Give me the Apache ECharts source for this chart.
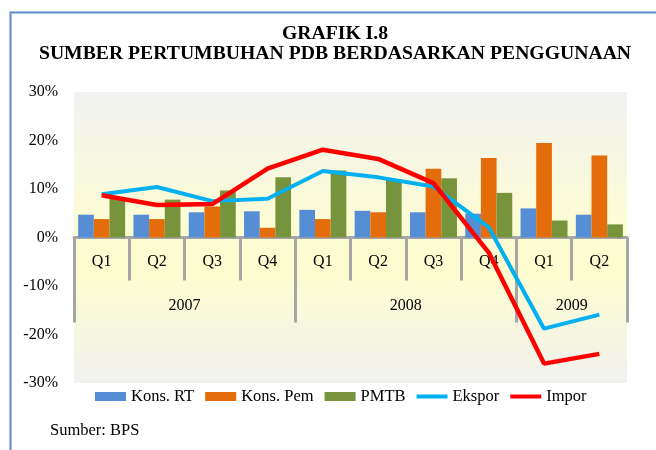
<!DOCTYPE html>
<html>
<head>
<meta charset="utf-8">
<script src="https://cdn.jsdelivr.net/npm/echarts@6/dist/echarts.min.js"></script>
<style>
html,body{margin:0;padding:0;background:#fff;}
#chart{width:656px;height:450px;}
</style>
</head>
<body>
<div id="chart"></div>
<script>
var quarters = ['Q1','Q2','Q3','Q4','Q1','Q2','Q3','Q4','Q1','Q2'];
var years = ['2007','2008','2009'];
var yearSpans = [4, 4, 2];
var konsRT  = [4.7, 4.7, 5.2, 5.4, 5.7, 5.5, 5.2, 4.9, 6.0, 4.7];
var konsPem = [3.8, 3.8, 6.4, 2.0, 3.8, 5.2, 14.2, 16.4, 19.5, 16.9];
var pmtb    = [8.0, 7.8, 9.7, 12.4, 13.8, 11.8, 12.2, 9.2, 3.5, 2.7];
var ekspor  = [8.9, 10.4, 7.5, 8.0, 13.7, 12.4, 10.5, 2.1, -18.8, -15.9];
var impor   = [8.7, 6.7, 6.9, 14.2, 18.1, 16.2, 11.2, -3.1, -26.0, -24.0];
var yTicks  = [-30, -20, -10, 0, 10, 20, 30];

var yearBounds = [0], yearMids = [], acc = 0;
yearSpans.forEach(function (s) { yearMids.push(acc + s / 2); acc += s; yearBounds.push(acc); });

var FONT = '"Liberation Serif", "DejaVu Serif", serif';
var GRID_TOP = 92, GRID_BOTTOM = 67, H = 450;
var zeroOffset = -((H - GRID_BOTTOM) - (GRID_TOP + (H - GRID_BOTTOM)) / 2);
var LINE_ICON = 'path://M0,0 H31 V4 H0 Z';

var chart = echarts.init(document.getElementById('chart'), null, {renderer: 'canvas'});
var option = {
  animation: false,
  textStyle: {fontFamily: FONT, color: '#000'},
  title: [
    {text: 'GRAFIK I.8', left: 335, textAlign: 'center', top: 24, padding: 0,
     textStyle: {fontFamily: FONT, fontSize: 19.7, fontWeight: 'bold', color: '#000'}},
    {text: 'SUMBER PERTUMBUHAN PDB BERDASARKAN PENGGUNAAN', left: 335, textAlign: 'center', top: 44, padding: 0,
     textStyle: {fontFamily: FONT, fontSize: 19.7, fontWeight: 'bold', color: '#000'}},
    {text: 'Sumber: BPS', left: 50, top: 422, padding: 0,
     textStyle: {fontFamily: FONT, fontSize: 16.5, fontWeight: 'normal', color: '#000'}}
  ],
  graphic: [{
    type: 'rect', silent: true, z: -1,
    shape: {x: 10.5, y: 12.5, width: 700, height: 500},
    style: {fill: 'none', stroke: '#5b8bc9', lineWidth: 2}
  }],
  legend: {
    left: 95, top: 388, padding: 0, itemWidth: 31, itemHeight: 9, itemGap: 11,
    textStyle: {fontFamily: FONT, fontSize: 16.5, color: '#000'},
    data: [
      {name: 'Kons. RT', icon: 'rect'},
      {name: 'Kons. Pem', icon: 'rect'},
      {name: 'PMTB', icon: 'rect'},
      {name: 'Ekspor', icon: LINE_ICON},
      {name: 'Impor', icon: LINE_ICON}
    ]
  },
  grid: {
    left: 74, right: 29, top: GRID_TOP, bottom: GRID_BOTTOM, show: true, borderWidth: 0,
    backgroundColor: new echarts.graphic.LinearGradient(0, 0, 0, 1, [
      {offset: 0, color: '#f2f2f2'},
      {offset: 0.45, color: '#fcfcd4'},
      {offset: 0.62, color: '#fdfdd0'},
      {offset: 1, color: '#f1f1ef'}
    ])
  },
  xAxis: [
    {
      type: 'category', data: quarters, boundaryGap: true, position: 'bottom', offset: zeroOffset,
      axisLine: {onZero: false, lineStyle: {color: '#a6a6a6', width: 3}},
      axisTick: {show: true, interval: 0, length: 43, lineStyle: {color: '#a6a6a6', width: 3}},
      axisLabel: {interval: 0, margin: 16, fontSize: 16, color: '#000', fontFamily: FONT},
      splitLine: {show: false}
    },
    {
      type: 'value', min: 0, max: 10, position: 'bottom', offset: zeroOffset,
      axisLine: {show: false, onZero: false},
      axisTick: {show: true, customValues: yearBounds, length: 85, lineStyle: {color: '#a6a6a6', width: 3}},
      axisLabel: {show: true, customValues: yearMids, margin: 60, fontSize: 16, color: '#000', fontFamily: FONT,
        formatter: function (v) { var i = yearMids.indexOf(v); return i >= 0 ? years[i] : ''; }},
      splitLine: {show: false}
    }
  ],
  yAxis: {
    type: 'value', min: yTicks[0], max: yTicks[yTicks.length - 1], interval: 10,
    axisLine: {show: false}, axisTick: {show: false}, splitLine: {show: false},
    axisLabel: {formatter: '{value}%', fontSize: 16, color: '#000', margin: 16, fontFamily: FONT}
  },
  series: [
    {name: 'Kons. RT', type: 'bar', data: konsRT, barGap: '0%', barCategoryGap: '15%',
     itemStyle: {color: '#558ed5'}},
    {name: 'Kons. Pem', type: 'bar', data: konsPem, itemStyle: {color: '#e46c0a'}},
    {name: 'PMTB', type: 'bar', data: pmtb, itemStyle: {color: '#77933c'}},
    {name: 'Ekspor', type: 'line', data: ekspor, symbol: 'none', showSymbol: false,
     lineStyle: {color: '#00b0f0', width: 4}, itemStyle: {color: '#00b0f0'}, z: 3},
    {name: 'Impor', type: 'line', data: impor, symbol: 'none', showSymbol: false,
     lineStyle: {color: '#ff0000', width: 4.5}, itemStyle: {color: '#ff0000'}, z: 4}
  ]
};
chart.setOption(option);
</script>
</body>
</html>
